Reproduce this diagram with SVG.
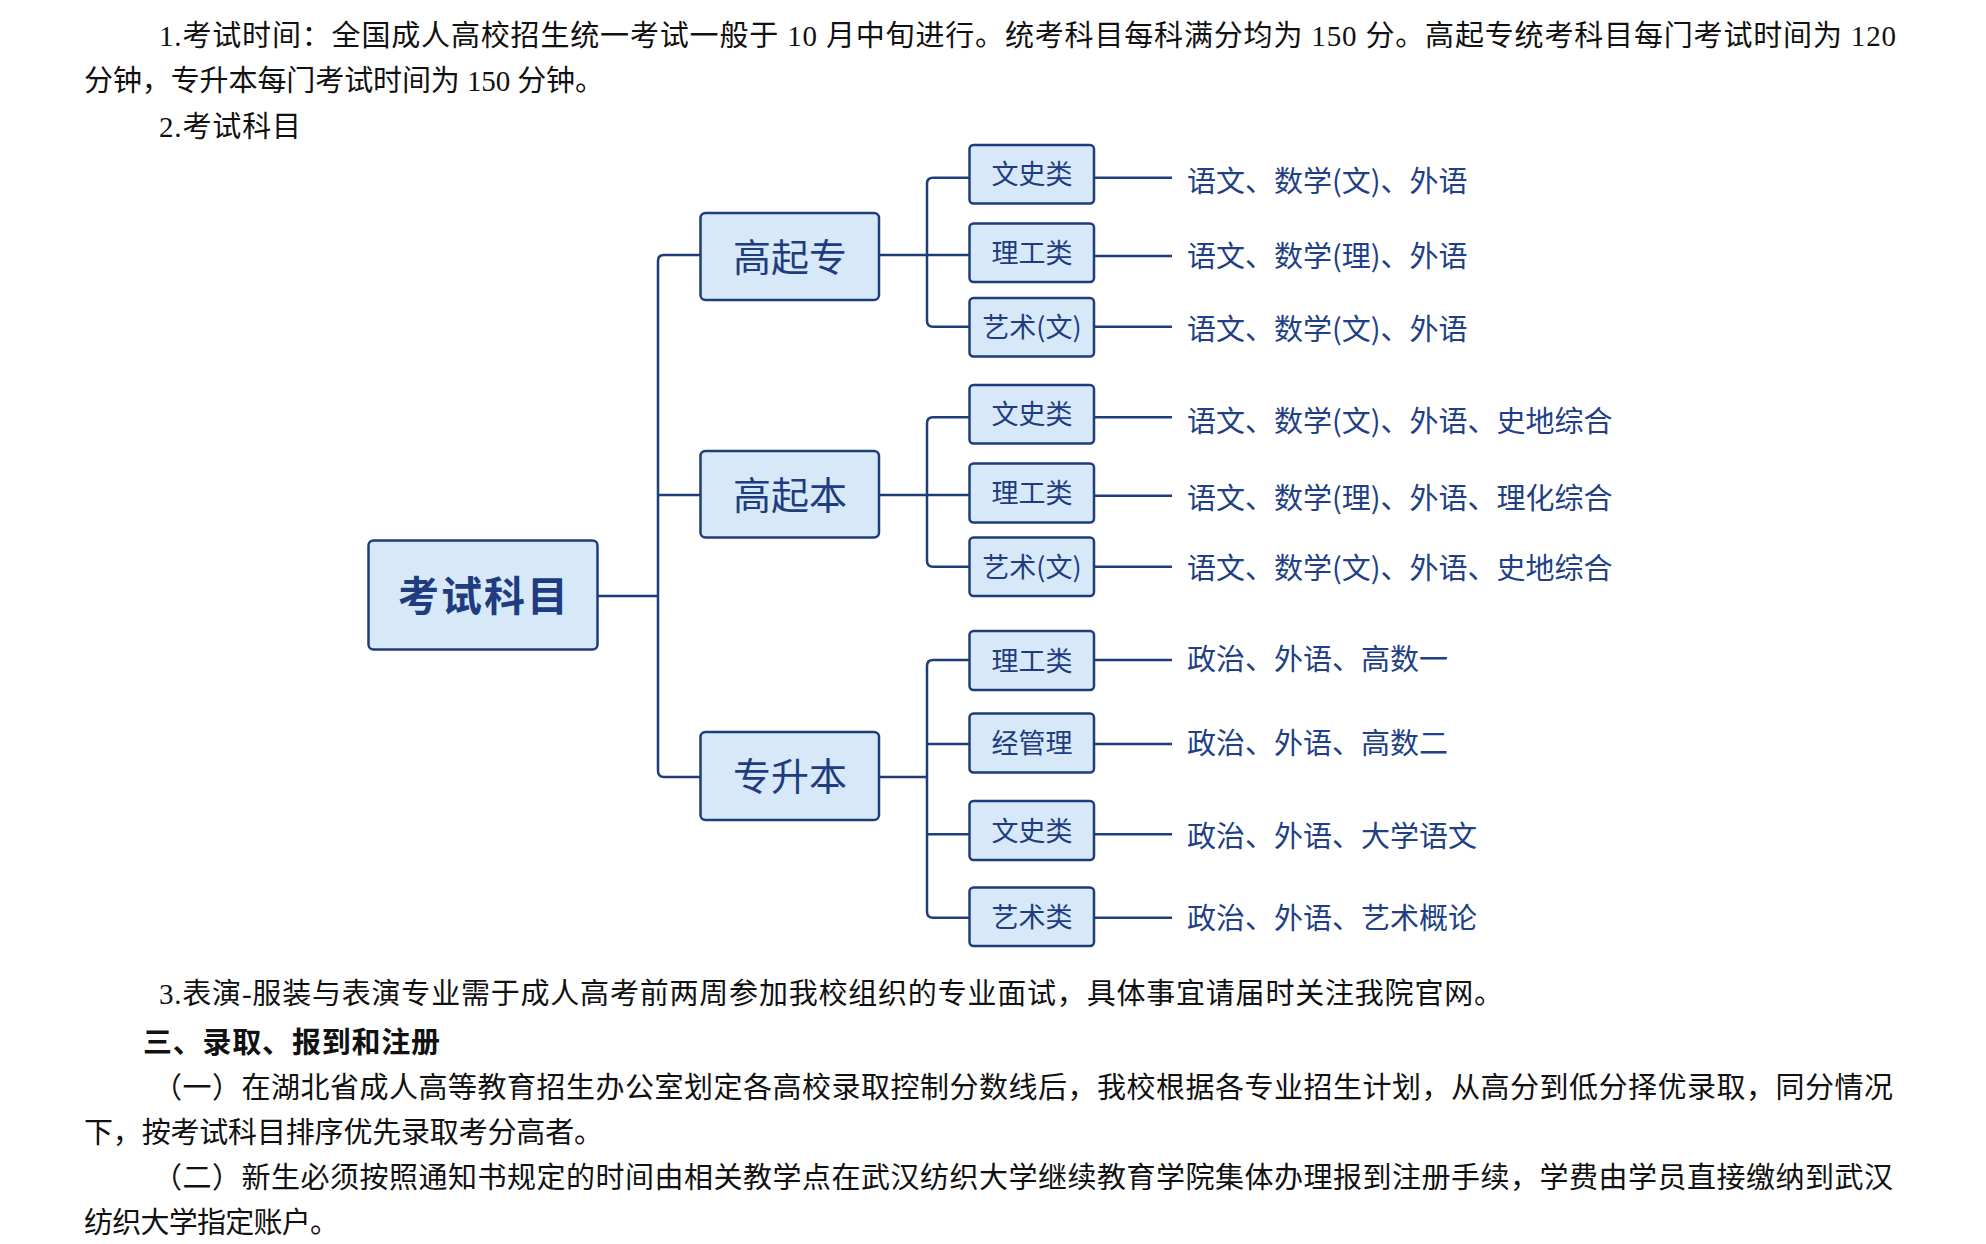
<svg xmlns="http://www.w3.org/2000/svg" width="1986" height="1244" viewBox="0 0 1986 1244">
<style>
.p{font-family:"Liberation Serif","Noto Sans CJK SC",serif;font-size:29px;fill:#111}
.h{font-family:"Noto Sans CJK SC",sans-serif;font-size:29px;font-weight:bold;fill:#111}
.box{fill:#d7e9f8;stroke:#1f3d7a;stroke-width:2.5}
.ln{fill:none;stroke:#1f3d7a;stroke-width:2.5}
.t1{font-family:"Noto Sans CJK SC",sans-serif;font-size:41px;font-weight:bold;fill:#1f3c7f;text-anchor:middle;letter-spacing:2px}
.t2{font-family:"Noto Sans CJK SC",sans-serif;font-size:38px;fill:#1f3c7f;text-anchor:middle}
.t3{font-family:"Noto Sans CJK SC",sans-serif;font-size:27px;fill:#1f3c7f;text-anchor:middle}
.t4{font-family:"Noto Sans CJK SC",sans-serif;font-size:29px;fill:#213f85}
</style>
<rect width="1986" height="1244" fill="#fff"/>
<g id="text-top">
<text class="p" x="159" y="46" textLength="1737" lengthAdjust="spacing">1.考试时间：全国成人高校招生统一考试一般于 10 月中旬进行。统考科目每科满分均为 150 分。高起专统考科目每门考试时间为 120</text>
<text class="p" x="84" y="91" textLength="520" lengthAdjust="spacing">分钟，专升本每门考试时间为 150 分钟。</text>
<text class="p" x="159" y="137" textLength="142" lengthAdjust="spacing">2.考试科目</text>
</g>
<g id="connectors">
<path class="ln" d="M598 596 H658"/>
<path class="ln" d="M700 255 H664 Q658 255 658 261 V771 Q658 777 664 777 H700"/>
<path class="ln" d="M658 495 H700"/>
<path class="ln" d="M879 255 H927"/>
<path class="ln" d="M969 177.7 H933 Q927 177.7 927 183.7 V320.7 Q927 326.7 933 326.7 H969"/>
<path class="ln" d="M927 255 H969"/>
<path class="ln" d="M879 495 H927"/>
<path class="ln" d="M969 417.3 H933 Q927 417.3 927 423.3 V560.7 Q927 566.7 933 566.7 H969"/>
<path class="ln" d="M927 495 H969"/>
<path class="ln" d="M879 777 H927"/>
<path class="ln" d="M969 660 H933 Q927 660 927 666 V911.7 Q927 917.7 933 917.7 H969"/>
<path class="ln" d="M927 744 H969 M927 834.3 H969"/>
<path class="ln" d="M1094 177.7 H1172 M1094 256 H1172 M1094 326.7 H1172 M1094 417.3 H1172 M1094 495.7 H1172 M1094 566.7 H1172 M1094 660 H1172 M1094 744 H1172 M1094 834.3 H1172 M1094 917.7 H1172"/>
</g>
<g id="root"><rect class="box" x="368.5" y="540.5" width="229" height="109" rx="5"/><text class="t1" x="484" y="611">考试科目</text></g>
<g id="gqz"><rect class="box" x="700.5" y="213" width="178.5" height="87" rx="5"/><text class="t2" x="790" y="271">高起专</text></g>
<g id="gqb"><rect class="box" x="700.5" y="451" width="178.5" height="86.5" rx="5"/><text class="t2" x="790" y="508.5">高起本</text></g>
<g id="zsb"><rect class="box" x="700.5" y="732" width="178.5" height="88" rx="5"/><text class="t2" x="790" y="790">专升本</text></g>
<g id="n1"><rect class="box" x="969.5" y="145" width="124.5" height="58.5" rx="4"/><text class="t3" x="1032" y="184">文史类</text></g>
<g id="n2"><rect class="box" x="969.5" y="223.5" width="124.5" height="58.5" rx="4"/><text class="t3" x="1032" y="262.5">理工类</text></g>
<g id="n3"><rect class="box" x="969.5" y="298" width="124.5" height="58.5" rx="4"/><text class="t3" x="1032" y="337">艺术(文)</text></g>
<g id="n4"><rect class="box" x="969.5" y="385" width="124.5" height="58.5" rx="4"/><text class="t3" x="1032" y="424">文史类</text></g>
<g id="n5"><rect class="box" x="969.5" y="463.5" width="124.5" height="59" rx="4"/><text class="t3" x="1032" y="503">理工类</text></g>
<g id="n6"><rect class="box" x="969.5" y="537.5" width="124.5" height="58.5" rx="4"/><text class="t3" x="1032" y="576.5">艺术(文)</text></g>
<g id="n7"><rect class="box" x="969.5" y="631" width="124.5" height="59" rx="4"/><text class="t3" x="1032" y="670.5">理工类</text></g>
<g id="n8"><rect class="box" x="969.5" y="713.5" width="124.5" height="59" rx="4"/><text class="t3" x="1032" y="753">经管理</text></g>
<g id="n9"><rect class="box" x="969.5" y="801" width="124.5" height="59" rx="4"/><text class="t3" x="1032" y="840.5">文史类</text></g>
<g id="n10"><rect class="box" x="969.5" y="887.5" width="124.5" height="58.5" rx="4"/><text class="t3" x="1032" y="926.5">艺术类</text></g>
<g id="subjects">
<text class="t4" x="1187" y="192">语文、数学(文)、外语</text>
<text class="t4" x="1187" y="267">语文、数学(理)、外语</text>
<text class="t4" x="1187" y="340">语文、数学(文)、外语</text>
<text class="t4" x="1187" y="431.5">语文、数学(文)、外语、史地综合</text>
<text class="t4" x="1187" y="508.5">语文、数学(理)、外语、理化综合</text>
<text class="t4" x="1187" y="579">语文、数学(文)、外语、史地综合</text>
<text class="t4" x="1187" y="670">政治、外语、高数一</text>
<text class="t4" x="1187" y="753.5">政治、外语、高数二</text>
<text class="t4" x="1187" y="847">政治、外语、大学语文</text>
<text class="t4" x="1187" y="928.5">政治、外语、艺术概论</text>
</g>
<g id="text-bottom">
<text class="p" x="159" y="1004" textLength="1344" lengthAdjust="spacing">3.表演-服装与表演专业需于成人高考前两周参加我校组织的专业面试，具体事宜请届时关注我院官网。</text>
<text class="h" x="143" y="1053" textLength="297" lengthAdjust="spacing">三、录取、报到和注册</text>
<text class="p" x="153" y="1098" textLength="1740" lengthAdjust="spacing">（一）在湖北省成人高等教育招生办公室划定各高校录取控制分数线后，我校根据各专业招生计划，从高分到低分择优录取，同分情况</text>
<text class="p" x="84" y="1143" textLength="519" lengthAdjust="spacing">下，按考试科目排序优先录取考分高者。</text>
<text class="p" x="153" y="1188" textLength="1740" lengthAdjust="spacing">（二）新生必须按照通知书规定的时间由相关教学点在武汉纺织大学继续教育学院集体办理报到注册手续，学费由学员直接缴纳到武汉</text>
<text class="p" x="84" y="1233" textLength="255" lengthAdjust="spacing">纺织大学指定账户。</text>
</g>
</svg>
